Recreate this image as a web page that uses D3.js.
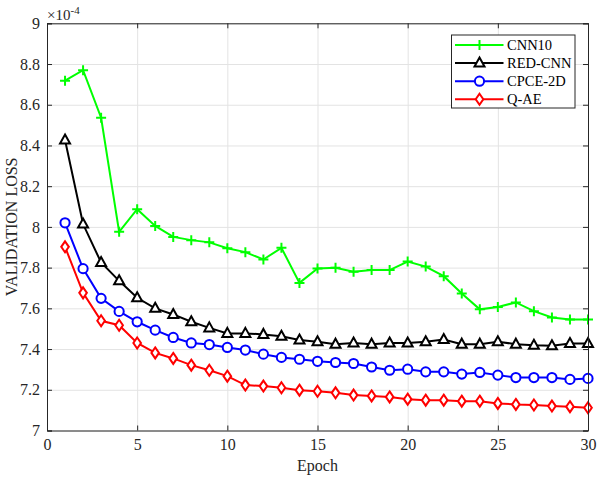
<!DOCTYPE html>
<html>
<head>
<meta charset="utf-8">
<script src="https://cdn.jsdelivr.net/npm/d3@7"></script>
<style>
  html, body { margin: 0; padding: 0; background: #fff; }
  svg { display: block; font-family: "Liberation Serif", "Times New Roman", serif; }
</style>
</head>
<body>
<svg id="chart" width="600" height="479"></svg>
<script>
const epochs = [1,2,3,4,5,6,7,8,9,10,11,12,13,14,15,16,17,18,19,20,21,22,23,24,25,26,27,28,29,30];
const cnn10  = [8.718, 8.770, 8.536, 7.976, 8.087, 8.005, 7.951, 7.935, 7.924, 7.895, 7.876, 7.840, 7.897, 7.725, 7.796, 7.799, 7.780, 7.788, 7.788, 7.830, 7.805, 7.758, 7.673, 7.595, 7.607, 7.629, 7.586, 7.555, 7.545, 7.545];
const redcnn = [8.427, 8.014, 7.825, 7.735, 7.652, 7.600, 7.570, 7.534, 7.504, 7.477, 7.477, 7.472, 7.463, 7.444, 7.436, 7.424, 7.430, 7.424, 7.430, 7.430, 7.436, 7.447, 7.424, 7.424, 7.436, 7.424, 7.419, 7.416, 7.427, 7.427];
const cpce2d = [8.020, 7.795, 7.649, 7.585, 7.534, 7.493, 7.457, 7.430, 7.422, 7.408, 7.395, 7.375, 7.359, 7.350, 7.340, 7.334, 7.329, 7.312, 7.296, 7.301, 7.288, 7.288, 7.277, 7.285, 7.272, 7.260, 7.260, 7.260, 7.251, 7.256];
const qae    = [7.902, 7.676, 7.539, 7.517, 7.430, 7.381, 7.354, 7.321, 7.296, 7.267, 7.223, 7.218, 7.210, 7.198, 7.193, 7.185, 7.174, 7.170, 7.165, 7.154, 7.149, 7.149, 7.144, 7.144, 7.133, 7.128, 7.125, 7.120, 7.117, 7.112];
const seriesNames = ["CNN10", "RED-CNN", "CPCE-2D", "Q-AE"];
const xTicks = [0, 5, 10, 15, 20, 25, 30];
const yTicks = [7, 7.2, 7.4, 7.6, 7.8, 8, 8.2, 8.4, 8.6, 8.8, 9];
const xLabel = "Epoch";
const yLabel = "VALIDATION LOSS";

const seriesData = [cnn10, redcnn, cpce2d, qae];
const colors = ["#00ff00", "#000000", "#0000ff", "#ff0000"];
const markers = ["plus", "triangle", "circle", "diamond"];

const svg = d3.select("#chart");
const L = 47, R = 588, T = 23.3, B = 430.5;
const W = R - L, H = B - T;
const x = d3.scaleLinear().domain([0, 30]).range([L, R]);
const y = d3.scaleLinear().domain([7, 9]).range([B, T]);
const axisColor = "#262626";
const FONT = 16;
const FAMILY = "'Liberation Serif', 'Times New Roman', serif";

// background
svg.append("rect").attr("x", L).attr("y", T).attr("width", W).attr("height", H).attr("fill", "#fff");

// grid
const gx = svg.append("g").attr("transform", `translate(0,${B})`)
  .call(d3.axisBottom(x).tickValues(xTicks).tickSize(-H).tickFormat(""));
const gy = svg.append("g").attr("transform", `translate(${L},0)`)
  .call(d3.axisLeft(y).tickValues(yTicks).tickSize(-W).tickFormat(""));
[gx, gy].forEach(g => {
  g.select(".domain").remove();
  g.selectAll("line").attr("stroke", "#e3e3e3").attr("stroke-width", 1);
});

// series lines & markers
const line = d3.line().x((d, i) => x(epochs[i])).y(d => y(d));
seriesData.forEach((data, si) => {
  const g = svg.append("g");
  g.append("path").datum(data).attr("d", line)
    .attr("fill", "none").attr("stroke", colors[si]).attr("stroke-width", 2);
  data.forEach((v, i) => drawMarker(g, markers[si], x(epochs[i]), y(v), colors[si]));
});

function drawMarker(g, type, cx, cy, color) {
  if (type === "plus") {
    g.append("path").attr("d", `M${cx-5},${cy}H${cx+5}M${cx},${cy-5}V${cy+5}`)
      .attr("stroke", color).attr("stroke-width", 2).attr("fill", "none");
  } else if (type === "triangle") {
    g.append("path").attr("d", `M${cx},${cy-5.5}L${cx+5},${cy+3.5}L${cx-5},${cy+3.5}Z`)
      .attr("stroke", color).attr("stroke-width", 2).attr("fill", "#fff");
  } else if (type === "circle") {
    g.append("circle").attr("cx", cx).attr("cy", cy).attr("r", 4.6)
      .attr("stroke", color).attr("stroke-width", 2).attr("fill", "#fff");
  } else if (type === "diamond") {
    g.append("path").attr("d", `M${cx},${cy-5.5}L${cx+3.8},${cy}L${cx},${cy+5.5}L${cx-3.8},${cy}Z`)
      .attr("stroke", color).attr("stroke-width", 2).attr("fill", "#fff");
  }
}

// axes (MATLAB-style inward ticks, box)
const fmtY = d => d3.format("")(+d.toFixed(1));
const ax = svg.append("g").attr("transform", `translate(0,${B})`)
  .call(d3.axisBottom(x).tickValues(xTicks).tickSize(-5).tickPadding(8).tickFormat(d3.format("d")));
const ay = svg.append("g").attr("transform", `translate(${L},0)`)
  .call(d3.axisLeft(y).tickValues(yTicks).tickSize(-5).tickPadding(7).tickFormat(fmtY));
const axT = svg.append("g").attr("transform", `translate(0,${T})`)
  .call(d3.axisTop(x).tickValues(xTicks).tickSize(-5).tickFormat(""));
const ayR = svg.append("g").attr("transform", `translate(${R},0)`)
  .call(d3.axisRight(y).tickValues(yTicks).tickSize(-5).tickFormat(""));
[ax, ay, axT, ayR].forEach(g => {
  g.attr("font-family", FAMILY).attr("font-size", FONT);
  g.select(".domain").attr("stroke", axisColor).attr("stroke-width", 1);
  g.selectAll(".tick line").attr("stroke", axisColor);
  g.selectAll("text").attr("fill", "#262626");
});
ax.selectAll("text").attr("dy", "0.71em");

// exponent label
const ex = svg.append("text").attr("x", 47).attr("y", 20).attr("font-size", 15).attr("fill", "#262626");
ex.append("tspan").text("\u00d710");
ex.append("tspan").attr("dy", -6).attr("font-size", 11).text("-4");

// axis labels
svg.append("text").attr("x", (L + R) / 2).attr("y", 471).attr("text-anchor", "middle")
  .attr("font-size", FONT).attr("fill", "#262626").text(xLabel);
svg.append("text").attr("transform", `translate(17,${(T + B) / 2}) rotate(-90)`)
  .attr("text-anchor", "middle").attr("font-size", FONT).attr("fill", "#262626").text(yLabel);

// legend
const lg = svg.append("g");
const lx = 451.5, ly = 35, lw = 123.5, lh = 73;
lg.append("rect").attr("x", lx).attr("y", ly).attr("width", lw).attr("height", lh)
  .attr("fill", "#fff").attr("stroke", axisColor).attr("stroke-width", 1);
seriesNames.forEach((name, i) => {
  const yy = ly + 10 + i * 18.1;
  lg.append("line").attr("x1", lx + 3.5).attr("x2", lx + 52).attr("y1", yy).attr("y2", yy)
    .attr("stroke", colors[i]).attr("stroke-width", 2);
  drawMarker(lg, markers[i], lx + 28, yy, colors[i]);
  lg.append("text").attr("x", lx + 55.5).attr("y", yy).attr("dy", "0.35em")
    .attr("font-size", 14.5).attr("fill", "#000").text(name);
});
</script>
</body>
</html>
